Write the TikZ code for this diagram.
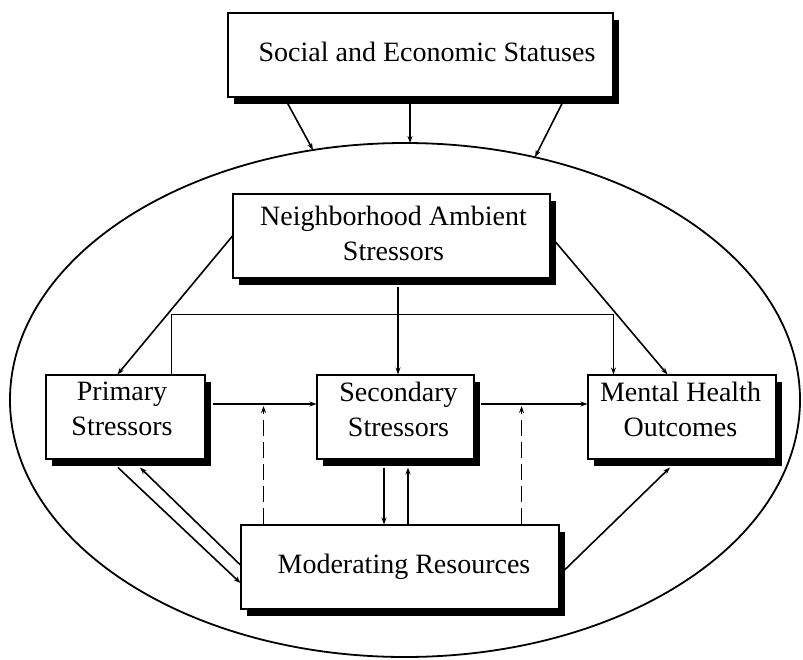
\documentclass[tikz,border=0pt]{standalone}
\usepackage{fontspec}
\setmainfont{Liberation Serif}
\usetikzlibrary{arrows.meta,calc,shadows}
\begin{document}
\begin{tikzpicture}[x=1pt,y=-1pt,
  box/.style={draw,line width=1.1pt,fill=white,rectangle,inner sep=0pt,
    drop shadow={shadow xshift=6pt,shadow yshift=-7pt,fill=black,opacity=1}},
  lbl/.style={align=center,font=\fontsize{28}{35}\selectfont,inner sep=0pt},
  arr/.style={line width=1.6pt,-{Stealth[length=7pt,width=5pt]}},
  dsh/.style={arr,dash pattern=on 16pt off 6pt}]
\useasboundingbox (0,0) rectangle (803,659);
% outer ellipse
\draw[line width=1.8pt] (405,400) ellipse [x radius=395, y radius=257];
\coordinate (e1) at (313,150);
\coordinate (e2) at (410,143);
\coordinate (e3) at (535,157);
% boxes
\node[box,minimum width=385pt,minimum height=84pt] (soc) at (420.5,55) {};
\node[box,minimum width=317pt,minimum height=84pt] (nas) at (391.5,236) {};
\node[box,minimum width=159pt,minimum height=84pt] (prim) at (125.5,417) {};
\node[box,minimum width=157pt,minimum height=84pt] (sec) at (395.5,417) {};
\node[box,minimum width=188pt,minimum height=84pt] (men) at (682,417) {};
\node[box,minimum width=318pt,minimum height=84pt] (mod) at (400,567) {};
% labels
\node[lbl] (socT) at (427,52) {Social and Economic Statuses};
\node[lbl] (nasT) at (393.5,233.5) {Neighborhood Ambient\\Stressors};
\node[lbl] (primT) at (122,409) {Primary\\Stressors};
\node[lbl] (secT) at (398.5,409) {Secondary\\Stressors};
\node[lbl] (menT) at (680.5,409) {Mental Health\\Outcomes};
\node[lbl] (modT) at (404,567) {Moderating Resources};
% status -> ellipse
\draw[arr] ($(soc.south west)+(57,0)$) -- (e1);
\draw[arr] ($(soc.south)+(-10.5,3)$) -- (e2);
\draw[arr] ($(soc.south east)+(-50,3)$) -- (e3);
% neighborhood
\draw[arr] (nas.west) -- ($(prim.north west)+(72,0)$);
\draw[arr] (nas.east) -- ($(men.north west)+(80,0)$);
\draw[arr] ($(nas.south)+(6.5,8)$) -- ($(sec.north)+(2.5,0)$);
% bracket primary -> mental
\draw[arr] ($(prim.north west)+(126,0)$) |- ($(men.north west)+(26,-60)$) -- ($(men.north west)+(26,0)$);
% main chain
\draw[arr] ($(prim.east)+(7,-13)$) -- ($(sec.west)+(0,-13)$);
\draw[arr] ($(sec.east)+(6,-13)$) -- ($(men.west)+(0,-13)$);
% moderating dashed
\coordinate (j1) at ($(prim.east)+(58,-11)$);
\coordinate (j2) at ($(sec.east)+(47,-11)$);
\draw[dsh] (mod.north -| j1) -- (j1);
\draw[dsh] (mod.north -| j2) -- (j2);
% secondary <-> moderating
\draw[arr] ($(sec.south)+(-11.5,8)$) -- ($(mod.north)+(-16,0)$);
\draw[arr] ($(mod.north)+(8,0)$) -- ($(sec.south)+(12.5,8)$);
% primary <-> moderating
\draw[arr] ($(prim.south)+(-7.5,8)$) -- ($(mod.west)+(0,16)$);
\draw[arr] ($(mod.west)+(0,-2)$) -- ($(prim.south)+(14.5,8)$);
% moderating -> mental
\draw[arr] ($(mod.east)+(5,3)$) -- ($(men.south)+(-12,8)$);
\end{tikzpicture}
\end{document}
